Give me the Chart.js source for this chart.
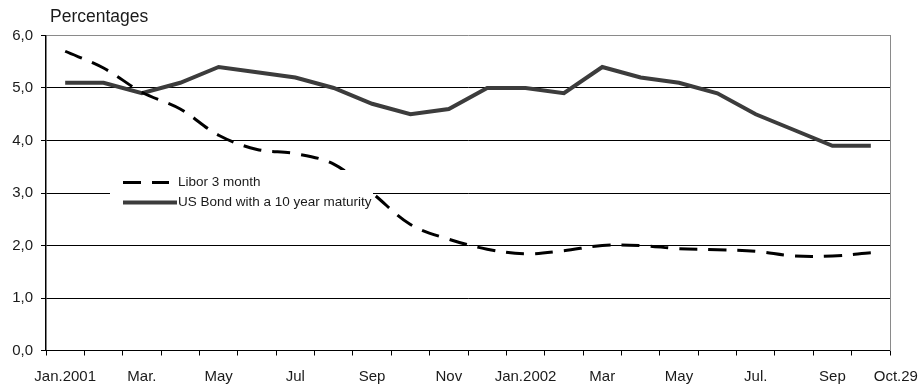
<!DOCTYPE html>
<html>
<head>
<meta charset="utf-8">
<script src="https://cdn.jsdelivr.net/npm/chart.js@4.4.1/dist/chart.umd.min.js"></script>
<style>
  html, body { margin: 0; padding: 0; background: #fff; }
  #wrap { width: 923px; height: 385px; }
</style>
</head>
<body>
<div id="wrap"><canvas id="c" width="923" height="385"></canvas></div>
<script>
// Monthly observations, January 2001 to October 2002
const months = [
  'Jan.2001', 'Feb.2001', 'Mar.', 'Apr.2001', 'May', 'Jun.2001', 'Jul', 'Aug.2001',
  'Sep', 'Oct.2001', 'Nov', 'Dec.2001', 'Jan.2002', 'Feb.2002', 'Mar', 'Apr.2002',
  'May', 'Jun.2002', 'Jul.', 'Aug.2002', 'Sep', 'Oct.29'
];

// Percentages
const libor3m = [
  5.70, 5.38, 4.92, 4.60, 4.10, 3.83, 3.75, 3.55, 3.00, 2.40, 2.12,
  1.93, 1.84, 1.90, 2.00, 2.00, 1.94, 1.92, 1.89, 1.80, 1.80, 1.86
];
const usBond10y = [
  5.1, 5.1, 4.9, 5.1, 5.4, 5.3, 5.2, 5.0, 4.7, 4.5, 4.6,
  5.0, 5.0, 4.9, 5.4, 5.2, 5.1, 4.9, 4.5, 4.2, 3.9, 3.9
];

const seriesNames = ['Libor 3 month', 'US Bond with a 10 year maturity'];
const yMin = 0, yMax = 6, yStep = 1;
const axisTitle = 'Percentages';

const FONT = '"Liberation Sans", Arial, Helvetica, sans-serif';
const TEXT = '#1a1a1a';

// Title above the value axis, the boxed legend inside the plot,
// and the final month label set just right of its category.
const decorations = {
  id: 'decorations',
  afterDatasetsDraw(chart) {
    const ctx = chart.ctx;
    ctx.save();
    // legend box (white, hides what runs beneath it)
    ctx.fillStyle = '#fff';
    ctx.fillRect(110, 170, 263, 48);
    ctx.font = '13.5px ' + FONT;
    ctx.textBaseline = 'middle';
    ctx.textAlign = 'left';
    chart.data.datasets.forEach((ds, i) => {
      const y = 182.5 + i * 20;
      ctx.beginPath();
      ctx.strokeStyle = ds.borderColor;
      ctx.lineWidth = ds.borderWidth;
      ctx.setLineDash(ds.borderDash || []);
      ctx.lineCap = 'butt';
      ctx.moveTo(123, y);
      ctx.lineTo(i === 0 ? 169 : 177, y);
      ctx.stroke();
      ctx.setLineDash([]);
      ctx.fillStyle = TEXT;
      ctx.fillText(ds.label, 178, y - 0.5);
    });
    ctx.restore();
  },
  afterDraw(chart) {
    const ctx = chart.ctx;
    const x = chart.scales.x;
    ctx.save();
    ctx.fillStyle = TEXT;
    ctx.textBaseline = 'middle';
    ctx.font = '17.5px ' + FONT;
    ctx.textAlign = 'left';
    ctx.fillText(axisTitle, 50, 17);
    const last = months.length - 1;
    ctx.font = '15px ' + FONT;
    ctx.textAlign = 'center';
    ctx.fillText(months[last], x.getPixelForValue(last) + 25, 376.5);
    ctx.restore();
  }
};

new Chart(document.getElementById('c'), {
  type: 'line',
  data: {
    labels: months,
    datasets: [
      {
        label: seriesNames[0],
        data: libor3m,
        borderColor: '#000000',
        borderWidth: 3,
        borderDash: [18, 11],
        tension: 0.35,
        pointRadius: 0,
        fill: false
      },
      {
        label: seriesNames[1],
        data: usBond10y,
        borderColor: '#3c3c3c',
        borderWidth: 4,
        tension: 0,
        pointRadius: 0,
        fill: false
      }
    ]
  },
  options: {
    responsive: false,
    animation: false,
    layout: { padding: { left: 0, right: 33, top: 35.5, bottom: 0 } },
    plugins: {
      legend: { display: false },
      title: { display: false },
      tooltip: { enabled: false }
    },
    scales: {
      x: {
        type: 'category',
        offset: true,
        grid: {
          offset: true,
          drawOnChartArea: false,
          drawTicks: true,
          tickLength: 5,
          tickColor: '#000',
          color: '#000'
        },
        border: { display: true, color: '#000', width: 1 },
        ticks: {
          autoSkip: false,
          maxRotation: 0,
          minRotation: 0,
          padding: 12,
          color: TEXT,
          font: { family: FONT, size: 15 },
          callback: (v, i) => (i % 2 === 0 ? months[i] : '')
        },
        afterFit: s => { s.height = 34.5; }
      },
      y: {
        min: yMin,
        max: yMax,
        ticks: {
          stepSize: yStep,
          padding: 8,
          color: TEXT,
          font: { family: FONT, size: 15 },
          callback: v => v.toFixed(1).replace('.', ',')
        },
        grid: {
          color: c => (c.tick && c.tick.value === yMax ? '#8a8a8a' : '#000'),
          lineWidth: 1,
          drawTicks: true,
          tickLength: 5,
          tickColor: '#000'
        },
        border: { display: true, color: '#000', width: 1.5 },
        afterFit: s => { s.width = 46; }
      },
      yRight: {
        position: 'right',
        min: yMin,
        max: yMax,
        ticks: { display: false },
        grid: { drawOnChartArea: false, drawTicks: false },
        border: { display: true, color: '#8a8a8a', width: 1 },
        afterFit: s => { s.width = 0; }
      }
    }
  },
  plugins: [decorations]
});
</script>
</body>
</html>
